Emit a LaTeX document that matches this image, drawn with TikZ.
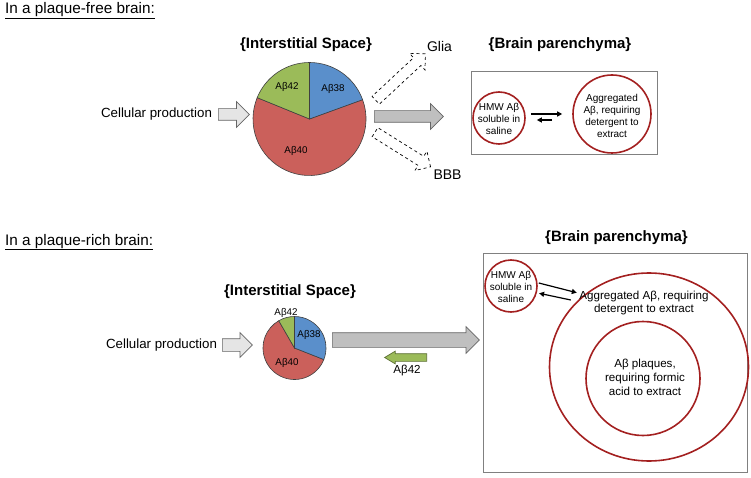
\documentclass[tikz,border=0pt]{standalone}
\usepackage{fontspec}
\setmainfont{Liberation Sans}
\usetikzlibrary{shapes.arrows,shapes.geometric,arrows.meta,positioning}
\definecolor{abblue}{HTML}{5A8FCB}
\definecolor{abred}{HTML}{CB605B}
\definecolor{abgreen}{HTML}{9BBB59}
\definecolor{ringred}{HTML}{A32020}
\definecolor{framegray}{HTML}{808080}
\tikzset{
  heading/.style={anchor=base west, inner sep=0pt, font=\fontsize{15.3}{18}\selectfont},
  title/.style={inner sep=0pt, font=\bfseries\fontsize{15}{18}\selectfont},
  lbl/.style={inner sep=0pt, font=\fontsize{13.3}{16}\selectfont},
  pielbl/.style={inner sep=0pt, font=\fontsize{9.8}{11}\selectfont},
  slice/.style={draw=black!75, line width=0.6pt},
  ring/.style={circle, draw=ringred, line width=1.6pt, inner sep=0pt},
  intext/.style={inner sep=0pt, align=center, font=\fontsize{10}{12}\selectfont},
  bigtext/.style={inner sep=0pt, align=center, font=\fontsize{11.6}{12.8}\selectfont},
  frame/.style={draw=framegray, line width=1pt, inner sep=0pt},
  flowarrow/.style={single arrow, anchor=tail, inner xsep=0pt, minimum width=0pt, line width=0.7pt, draw=black!60},
  fwd/.style={-{Triangle[length=5pt,width=5pt]}, line width=1.2pt}
}
\begin{document}
\begin{tikzpicture}[x=1pt,y=1pt]
\useasboundingbox (0,0) rectangle (751,477);
% headings
\node[heading] (hfree) at (5,463) {\underline{In a plaque-free brain:}};
\node[heading] (hrich) at (5,232) {\underline{In a plaque-rich brain:}};

% ---- plaque-free brain
\node[title] (isp1) at (306,432) {\{Interstitial Space\}};
\node[title] (bp1) at (560,432) {\{Brain parenchyma\}};
\coordinate (pie1) at (309.5,358);
\filldraw[slice, fill=abred] (pie1) -- ++(20:56.5) arc[start angle=20, end angle=-202.2, radius=56.5] -- cycle;
\filldraw[slice, fill=abblue] (pie1) -- ++(90:56.5) arc[start angle=90, end angle=20, radius=56.5] -- cycle;
\filldraw[slice, fill=abgreen] (pie1) -- ++(90:56.5) arc[start angle=90, end angle=157.8, radius=56.5] -- cycle;
\node[pielbl] (p1a42) at (287,390) {Aβ42};
\node[pielbl] (p1a38) at (333,388) {Aβ38};
\node[pielbl] (p1a40) at (296,326) {Aβ40};

\node[lbl] (cell1) at (156.5,363) {Cellular production};
\node[flowarrow, fill=gray!20, minimum height=31pt, inner ysep=5.5pt, single arrow head extend=7pt] (prod1) at (218,362.5) {};
\node[flowarrow, fill=gray!50, minimum height=69pt, inner ysep=5.5pt, single arrow head extend=7pt] (out1) at (374,360.5) {};
\node[flowarrow, dashed, fill=white, draw=black, minimum height=68pt, inner ysep=5pt, single arrow head extend=6pt, rotate=43] (toglia) at (375.5,376.5) {};
\node[flowarrow, dashed, fill=white, draw=black, minimum height=65.5pt, inner ysep=5pt, single arrow head extend=6pt, rotate=-32] (tobbb) at (374.7,345) {};
\node[lbl, font=\fontsize{14}{16}\selectfont] (glia) at (439.5,431) {Glia};
\node[lbl, font=\fontsize{14}{16}\selectfont] (bbb) at (447.5,302) {BBB};

\node[frame, minimum width=186pt, minimum height=83pt] (box1) at (564,363.5) {};
\node[ring, minimum size=52pt] (hmw1) at (499,359) {};
\node[intext] (hmw1txt) at (499,358.5) {HMW Aβ\\soluble in\\saline};
\node[ring, minimum size=78pt] (agg1) at (612,363) {};
\node[intext] (agg1txt) at (612,361) {Aggregated\\Aβ, requiring\\detergent to\\extract};
\draw[fwd] ([shift={(5,4)}]hmw1.east) -- ([shift={(-10,0)}]agg1.west);
\draw[fwd] ([shift={(-20,-6)}]agg1.west) -- ([shift={(11,-2)}]hmw1.east);

% ---- plaque-rich brain
\node[title] (isp2) at (290,185) {\{Interstitial Space\}};
\node[title] (bp2) at (616.5,239) {\{Brain parenchyma\}};
\coordinate (pie2) at (294.5,129);
\filldraw[slice, fill=abred] (pie2) -- ++(-21.5:31.5) arc[start angle=-21.5, end angle=-240, radius=31.5] -- cycle;
\filldraw[slice, fill=abblue] (pie2) -- ++(90:31.5) arc[start angle=90, end angle=-21.5, radius=31.5] -- cycle;
\filldraw[slice, fill=abgreen] (pie2) -- ++(90:31.5) arc[start angle=90, end angle=120, radius=31.5] -- cycle;
\node[pielbl] (p2a42) at (286,164) {Aβ42};
\node[pielbl] (p2a38) at (309,142) {Aβ38};
\node[pielbl] (p2a40) at (287,114) {Aβ40};

\node[lbl] (cell2) at (161.5,132) {Cellular production};
\node[flowarrow, fill=gray!20, minimum height=30pt, inner ysep=6pt, single arrow head extend=6pt] (prod2) at (222,132) {};
\node[flowarrow, fill=gray!50, minimum height=147pt, inner ysep=7pt, single arrow head extend=6pt] (out2) at (332,137) {};
\node[flowarrow, fill=abgreen, draw=abgreen!60!black, minimum height=42pt, inner ysep=3.5pt, single arrow head extend=2.5pt, single arrow tip angle=62, shape border rotate=180] (back2) at (427,119.5) {};
\node[pielbl, font=\fontsize{11.6}{13}\selectfont] (back2lbl) at (407,107) {Aβ42};

\node[frame, minimum width=264pt, minimum height=219pt] (box2) at (615,114.5) {};
\node[ring, minimum size=52pt] (hmw2) at (511,191) {};
\node[intext] (hmw2txt) at (511,190) {HMW Aβ\\soluble in\\saline};
\node[ellipse, draw=ringred, line width=1.6pt, inner sep=0pt, minimum width=199pt, minimum height=188pt] (agg2) at (649,110) {};
\node[bigtext] (agg2txt) at (644,174) {Aggregated Aβ, requiring\\detergent to extract};
\node[ring, minimum size=114pt] (plq2) at (643,98.5) {};
\node[bigtext, font=\fontsize{11.6}{14}\selectfont] (plq2txt) at (645,100) {Aβ plaques,\\requiring formic\\acid to extract};
\draw[fwd] ([shift={(1,3)}]hmw2.east) -- ([shift={(39,-6.7)}]hmw2.east);
\draw[fwd] ([shift={(33,-14)}]hmw2.east) -- ([shift={(1.3,-7.3)}]hmw2.east);
\end{tikzpicture}
\end{document}
